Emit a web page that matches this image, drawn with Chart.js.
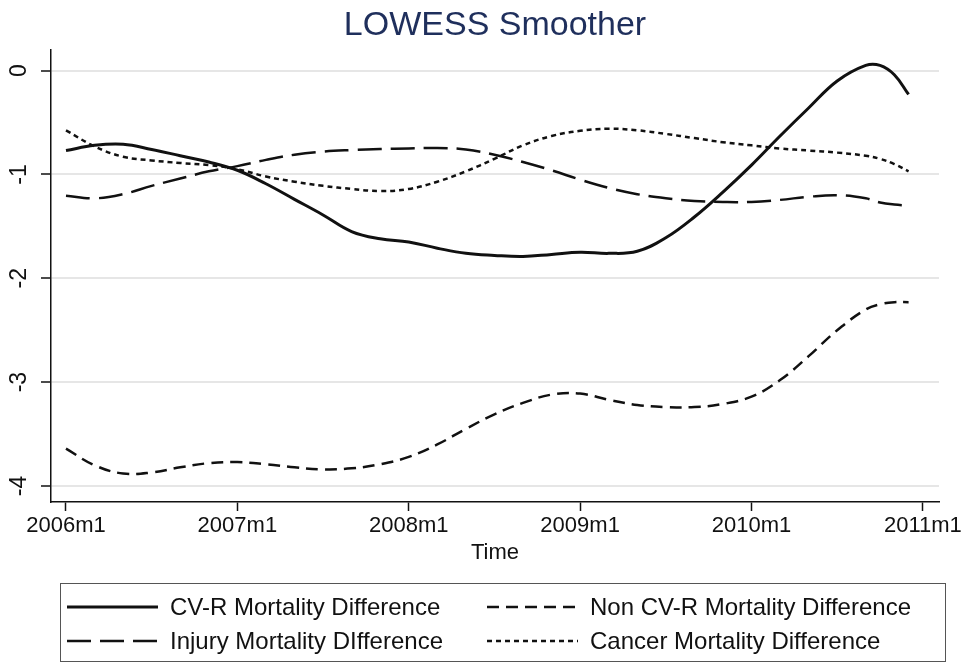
<!DOCTYPE html>
<html>
<head>
<meta charset="utf-8">
<script src="https://cdn.jsdelivr.net/npm/chart.js@4.4.1/dist/chart.umd.min.js"></script>
<style>
  html, body { margin: 0; padding: 0; background: #fff; }
  #wrap { position: relative; width: 967px; height: 667px; font-family: "Liberation Sans", Arial, Helvetica, sans-serif; }
  canvas { position: absolute; left: 0; top: 0; }
  #legend { position: absolute; left: 60px; top: 583px; width: 884px; height: 77px; border: 1.5px solid #555; box-sizing: content-box; }
  .item { position: absolute; height: 30px; display: flex; align-items: center; font-size: 24px; color: #111; white-space: nowrap; }
  .item svg { margin-right: 12px; }
</style>
</head>
<body>
<div id="wrap">
  <canvas id="c" width="967" height="667"></canvas>
  <div id="legend"></div>
</div>
<script>
// ---- data (months since 2006m1) ----
const months = [0,2,4,6,8,10,12,14,16,18,20,22,24,26,28,30,32,34,36,38,40,42,44,46,48,50,52,54,56,57,58,59];
const cvrValues = [-0.77,-0.72,-0.71,-0.76,-0.82,-0.88,-0.96,-1.09,-1.24,-1.39,-1.55,-1.62,-1.65,-1.71,-1.76,-1.78,-1.79,-1.77,-1.75,-1.76,-1.74,-1.61,-1.41,-1.17,-0.91,-0.63,-0.36,-0.10,0.05,0.05,-0.04,-0.23];
const nonCvrValues = [-3.64,-3.80,-3.88,-3.87,-3.82,-3.78,-3.77,-3.79,-3.82,-3.84,-3.83,-3.79,-3.72,-3.60,-3.45,-3.31,-3.20,-3.12,-3.11,-3.17,-3.22,-3.24,-3.24,-3.21,-3.14,-2.98,-2.75,-2.50,-2.30,-2.25,-2.23,-2.23];
const injuryValues = [-1.205,-1.23,-1.19,-1.11,-1.04,-0.97,-0.92,-0.86,-0.81,-0.78,-0.765,-0.755,-0.75,-0.745,-0.76,-0.81,-0.88,-0.96,-1.05,-1.13,-1.19,-1.23,-1.255,-1.265,-1.265,-1.245,-1.215,-1.20,-1.23,-1.27,-1.29,-1.30];
const cancerValues = [-0.575,-0.73,-0.83,-0.865,-0.89,-0.91,-0.95,-1.02,-1.07,-1.11,-1.14,-1.16,-1.14,-1.07,-0.97,-0.85,-0.72,-0.63,-0.58,-0.56,-0.575,-0.61,-0.65,-0.69,-0.72,-0.75,-0.77,-0.79,-0.82,-0.85,-0.90,-0.97];
const xTickValues = [0,12,24,36,48,60];
const xTickLabels = ["2006m1","2007m1","2008m1","2009m1","2010m1","2011m1"];
const yTickValues = [-4,-3,-2,-1,0];
const yTickLabels = ["-4","-3","-2","-1","0"];
const seriesNames = ["CV-R Mortality Difference","Non CV-R Mortality Difference","Injury Mortality DIfference","Cancer Mortality Difference"];

const FONT = '"Liberation Sans", Arial, Helvetica, sans-serif';
const pts = vals => vals.map((v, i) => ({x: months[i], y: v}));

const styles = [
  {width: 3, dash: []},
  {width: 2.5, dash: [12, 7]},
  {width: 2.5, dash: [24, 9]},
  {width: 2.5, dash: [5, 4]}
];
const allValues = [cvrValues, nonCvrValues, injuryValues, cancerValues];

const datasets = allValues.map((vals, k) => ({
  label: seriesNames[k],
  data: pts(vals),
  borderColor: '#111',
  borderWidth: styles[k].width,
  borderDash: styles[k].dash,
  pointRadius: 0,
  fill: false,
  tension: 0.4
}));

const yLabelPlugin = {
  id: 'yLabels',
  afterDraw(chart) {
    const ctx = chart.ctx, y = chart.scales.y;
    ctx.save();
    ctx.font = '23px ' + FONT;
    ctx.fillStyle = '#111';
    ctx.textAlign = 'center';
    ctx.textBaseline = 'middle';
    yTickValues.forEach((v, i) => {
      const py = y.getPixelForValue(v);
      ctx.save();
      ctx.translate(20, py);
      ctx.rotate(-Math.PI / 2);
      ctx.fillText(yTickLabels[i], 0, 0);
      ctx.restore();
    });
    ctx.restore();
  }
};

new Chart(document.getElementById('c'), {
  type: 'line',
  data: { datasets },
  plugins: [yLabelPlugin],
  options: {
    responsive: false,
    animation: false,
    devicePixelRatio: 1,
    layout: { padding: { left: 0, right: 28, top: 0, bottom: 95 } },
    plugins: {
      legend: { display: false },
      tooltip: { enabled: false },
      title: {
        display: true,
        fullSize: false,
        text: 'LOWESS Smoother',
        color: '#1f2f5c',
        font: { family: FONT, size: 34, weight: 'normal' },
        padding: { top: 5, bottom: 4 }
      }
    },
    scales: {
      x: {
        type: 'linear',
        min: -1.05,
        max: 61.13,
        afterBuildTicks: s => { s.ticks = xTickValues.map(v => ({value: v})); },
        afterFit: s => { s.height = 70; s.paddingLeft = 0; s.paddingRight = 0; },
        ticks: {
          autoSkip: false,
          maxRotation: 0,
          minRotation: 0,
          padding: 2,
          color: '#111',
          font: { family: FONT, size: 22 },
          callback: (v, i) => xTickLabels[i]
        },
        grid: { drawOnChartArea: false, drawTicks: true, tickLength: 9, tickColor: '#111', tickWidth: 1.5 },
        border: { display: true, color: '#111', width: 1.5 },
        title: { display: true, text: 'Time', color: '#111', font: { family: FONT, size: 22 }, padding: { top: 0, bottom: 6 } }
      },
      y: {
        type: 'linear',
        min: -4.154,
        max: 0.2,
        afterBuildTicks: s => { s.ticks = yTickValues.map(v => ({value: v})); },
        afterFit: s => { s.width = 51; s.paddingTop = 0; s.paddingBottom = 0; },
        ticks: { display: false },
        grid: { color: '#e6e6e6', lineWidth: 2, drawTicks: true, tickLength: 10, tickColor: '#111', tickWidth: 1.5 },
        border: { display: true, color: '#111', width: 1.5 }
      }
    }
  }
});

// ---- legend (HTML) ----
const legend = document.getElementById('legend');
const pos = [
  {left: 6, top: 8},
  {left: 426, top: 8},
  {left: 6, top: 42},
  {left: 426, top: 42}
];
[0, 1, 2, 3].forEach(k => {
  const d = document.createElement('div');
  d.className = 'item';
  d.style.left = pos[k].left + 'px';
  d.style.top = pos[k].top + 'px';
  const dash = styles[k].dash.length ? styles[k].dash.join(',') : 'none';
  d.innerHTML = '<svg width="91" height="10"><line x1="0" y1="5" x2="91" y2="5" stroke="#111" stroke-width="' +
    styles[k].width + '" stroke-dasharray="' + dash + '"/></svg><span>' + seriesNames[k] + '</span>';
  legend.appendChild(d);
});
</script>
</body>
</html>
